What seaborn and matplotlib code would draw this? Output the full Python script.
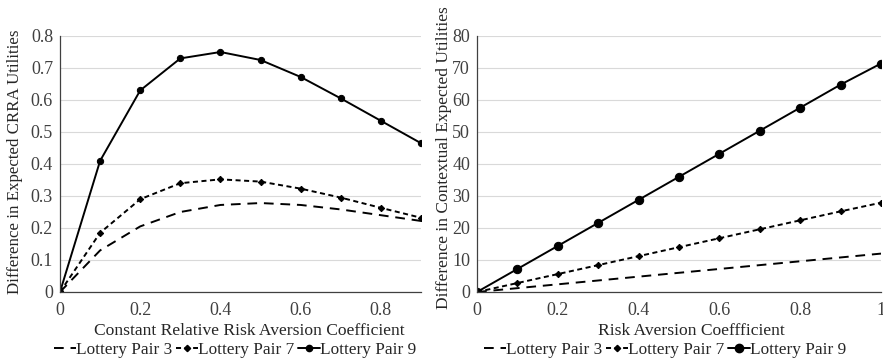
import numpy as np
import pandas as pd
import matplotlib
matplotlib.use("Agg")
import matplotlib.pyplot as plt
import seaborn as sns
from matplotlib.lines import Line2D

sns.set_theme(style="white")
plt.rcParams['font.family'] = ['Liberation Serif', 'DejaVu Serif']

# ---- data ----
x_left = [0, 0.1, 0.2, 0.3, 0.4, 0.5, 0.6, 0.7, 0.8, 0.9]
crra_pair3 = [0, 0.13, 0.205, 0.25, 0.272, 0.278, 0.272, 0.258, 0.24, 0.222]
crra_pair7 = [0, 0.185, 0.29, 0.34, 0.352, 0.345, 0.323, 0.295, 0.263, 0.232]
crra_pair9 = [0, 0.41, 0.63, 0.73, 0.75, 0.725, 0.672, 0.605, 0.535, 0.465]

x_right = [0, 0.1, 0.2, 0.3, 0.4, 0.5, 0.6, 0.7, 0.8, 0.9, 1.0]
ceu_pair3 = [0, 1.2, 2.4, 3.6, 4.8, 6.0, 7.2, 8.4, 9.6, 10.8, 12.0]
ceu_pair7 = [0, 2.8, 5.6, 8.4, 11.2, 14.0, 16.8, 19.6, 22.4, 25.2, 27.9]
ceu_pair9 = [0, 7.2, 14.4, 21.6, 28.8, 36.0, 43.2, 50.4, 57.6, 64.8, 71.4]

series_names = ["Lottery Pair 3", "Lottery Pair 7", "Lottery Pair 9"]
left_ticks = [0, 0.2, 0.4, 0.6, 0.8]
left_tick_labels = ["0", "0.2", "0.4", "0.6", "0.8"]
left_yticks = [0, 0.1, 0.2, 0.3, 0.4, 0.5, 0.6, 0.7, 0.8]
left_ytick_labels = ["0", "0.1", "0.2", "0.3", "0.4", "0.5", "0.6", "0.7", "0.8"]
right_ticks = [0, 0.2, 0.4, 0.6, 0.8, 1.0]
right_tick_labels = ["0", "0.2", "0.4", "0.6", "0.8", "1"]
right_yticks = [0, 10, 20, 30, 40, 50, 60, 70, 80]
right_ytick_labels = ["0", "10", "20", "30", "40", "50", "60", "70", "80"]

W, H = 883, 363
fig = plt.figure(figsize=(W / 100, H / 100), dpi=100)
axL = fig.add_axes([60 / W, 1 - 292 / H, 361 / W, 256 / H])
axR = fig.add_axes([477 / W, 1 - 292 / H, 404 / W, 256 / H])

txt = "#404040"
grid_c = "#d9d9d9"

styles = [
    dict(linestyle=(0, (5, 3.5)), marker=None),
    dict(linestyle=(0, (2.6, 1.8)), marker="D"),
    dict(linestyle="-", marker="o"),
]


def draw(ax, xs, ys_list, msizes):
    for name, ys, st, ms in zip(series_names, ys_list, styles, msizes):
        df = pd.DataFrame({"x": xs, "y": ys})
        kw = dict(color="black", linewidth=1.4, linestyle=st["linestyle"])
        if st["marker"]:
            kw.update(marker=st["marker"], markersize=ms, markeredgecolor="black",
                      markerfacecolor="black")
        sns.lineplot(data=df, x="x", y="y", ax=ax, **kw)
    for s in ["top", "right"]:
        ax.spines[s].set_visible(False)
    ax.spines["left"].set_color("#404040")
    ax.spines["bottom"].set_color("#404040")
    ax.spines["left"].set_linewidth(0.9)
    ax.spines["bottom"].set_linewidth(0.9)
    ax.grid(axis="y", color=grid_c, linewidth=0.8)
    ax.set_axisbelow(True)
    ax.tick_params(axis="both", length=0, labelsize=13, colors=txt)
    ax.tick_params(axis="x", pad=7)
    ax.tick_params(axis="y", pad=5)


draw(axL, x_left, [crra_pair3, crra_pair7, crra_pair9], [0, 3.2, 4.5])
axL.set_xlim(0, 0.9)
axL.set_ylim(0, 0.8)
axL.set_xticks(left_ticks, left_tick_labels)
axL.set_yticks(left_yticks, left_ytick_labels)
axL.set_xlabel("Constant Relative Risk Aversion Coefficient", fontsize=12.6, color="#262626")
axL.xaxis.set_label_coords(0.525, -0.12)
axL.set_ylabel("Difference in Expected CRRA Utilities", fontsize=12.2, color="#262626")
axL.yaxis.set_label_coords(-0.103, 0.508)

draw(axR, x_right, [ceu_pair3, ceu_pair7, ceu_pair9], [0, 3.2, 6.0])
axR.set_xlim(0, 1.0)
axR.set_ylim(0, 80)
axR.set_xticks(right_ticks, right_tick_labels)
axR.set_yticks(right_yticks, right_ytick_labels)
for lbl in axR.get_xticklabels():
    lbl.set_clip_on(False)
axR.set_xlabel("Risk Aversion Coeffficient", fontsize=12.6, color="#262626")
axR.xaxis.set_label_coords(0.53, -0.12)
axR.set_ylabel("Difference in Contextual Expected Utilities", fontsize=12.5, color="#262626")
axR.yaxis.set_label_coords(-0.062, 0.523)


def legend(xc, msize9):
    handles = []
    for st, ms in zip(styles, [0, 3.2, msize9]):
        h = Line2D([0], [0], color="black", linewidth=1.4, linestyle=st["linestyle"],
                   marker=st["marker"], markersize=ms)
        handles.append(h)
    fig.legend(handles, series_names, loc="center", bbox_to_anchor=(xc, 1 - 350 / H),
               ncol=3, frameon=False, fontsize=12.4, handlelength=1.3, handletextpad=0.0,
               columnspacing=0.2, labelcolor="#262626", borderaxespad=0, borderpad=0)


legend(235 / W, 4.5)
legend(665 / W, 6.0)

fig.savefig("out.png", dpi=100)
